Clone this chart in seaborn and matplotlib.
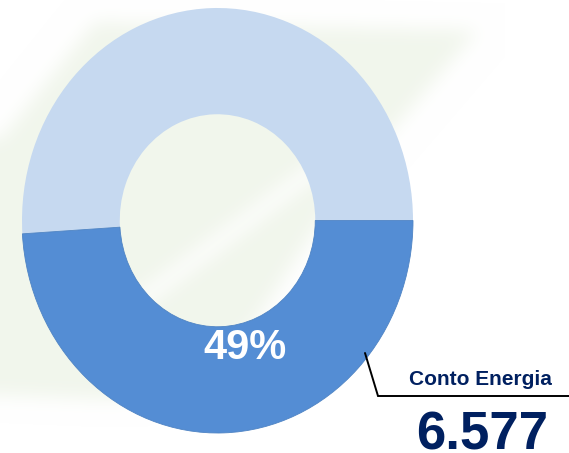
import numpy as np
import matplotlib
matplotlib.use("Agg")
import matplotlib.pyplot as plt
from matplotlib.path import Path
import seaborn as sns

# Share of the two groups (percent) and the headline figure for the highlighted one
groups = ["Altro", "Conto Energia"]
shares = [51, 49]
highlight_label = "Conto Energia"
highlight_value = "6.577"

slice_colors = ["#C6D9F0", "#548DD4"]
navy = "#002060"

sns.set_theme(style="white")
plt.rcParams["font.family"] = ["Liberation Sans", "DejaVu Sans"]

W, H = 569, 453
fig = plt.figure(figsize=(W / 100, H / 100), dpi=100)
fig.patch.set_facecolor("white")

# --- faint green watermark in the background -------------------------------
bg = fig.add_axes([0, 0, 1, 1], zorder=0)
bg.set_xlim(0, W)
bg.set_ylim(H, 0)
bg.axis("off")

yy, xx = np.mgrid[0:H, 0:W]
pts = np.column_stack([xx.ravel() + 0.5, yy.ravel() + 0.5])
shape = Path([(95, 22), (478, 30), (345, 185), (250, 330),
              (120, 400), (0, 395), (0, 140), (95, 22)])
alpha = shape.contains_points(pts).reshape(H, W).astype(float)
# light diagonal streak across the shape
p0, p1 = np.array([120.0, 315.0]), np.array([340.0, 150.0])
d = p1 - p0
t = np.clip(((xx - p0[0]) * d[0] + (yy - p0[1]) * d[1]) / (d @ d), 0, 1)
dist = np.hypot(xx - (p0[0] + t * d[0]), yy - (p0[1] + t * d[1]))
alpha[dist < 7] = 0.0


def blur(a, sigma):
    r = int(3 * sigma)
    k = np.exp(-0.5 * (np.arange(-r, r + 1) / sigma) ** 2)
    k /= k.sum()
    for axis in (0, 1):
        pad = [(0, 0), (0, 0)]
        pad[axis] = (r, r)
        ap = np.pad(a, pad, mode="edge")
        out = np.zeros_like(a)
        for i, w in enumerate(k):
            out += w * (ap[i:i + a.shape[0], :] if axis == 0 else ap[:, i:i + a.shape[1]])
        a = out
    return a


alpha = blur(alpha, 9) * 0.6
green = np.array([232, 240, 224]) / 255.0
img = 1 - alpha[..., None] * (1 - green[None, None, :])
bg.imshow(img, extent=(0, W, H, 0), interpolation="bilinear", zorder=0)

# --- donut ---------------------------------------------------------------
cx, cy = 217.5, 220.5      # centre (pixels from top-left)
rx, ry = 195.5, 212.5      # outer radii (pixels)

ax = fig.add_axes([0, 0, 1, 1], zorder=1)
ax.patch.set_alpha(0)
wedges, _ = ax.pie(shares, colors=slice_colors, startangle=0, counterclock=True,
                   radius=1.0, wedgeprops=dict(width=0.5, linewidth=0))
wedges[1].set_edgecolor("#4F84C4")
wedges[1].set_linewidth(0.6)
ax.set_aspect("auto")
ax.set_xlim(-cx / rx, (W - cx) / rx)
ax.set_ylim(-(H - cy) / ry, cy / ry)
ax.axis("off")

# --- labels and leader line -------------------------------------------------
fg = fig.add_axes([0, 0, 1, 1], zorder=2)
fg.patch.set_alpha(0)
fg.set_xlim(0, W)
fg.set_ylim(H, 0)
fg.axis("off")

fg.text(245, 348, f"{shares[1]}%", color="white", fontsize=30, fontweight="bold",
        ha="center", va="center")
fg.plot([365, 378, W], [353, 396, 396], color="black", lw=1.4,
        solid_joinstyle="miter")
fg.text(480, 385, highlight_label, color=navy, fontsize=15, fontweight="bold",
        ha="center", va="baseline")
fg.text(482, 449, highlight_value, color=navy, fontsize=38, fontweight="bold",
        ha="center", va="baseline")

fig.savefig("out.png", dpi=100, facecolor="white")
